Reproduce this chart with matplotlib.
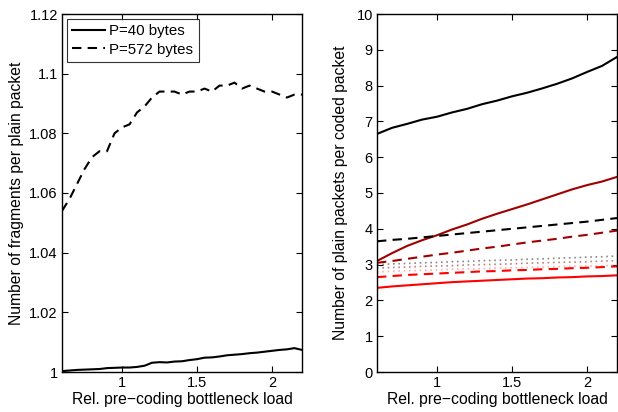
import numpy as np
import matplotlib
matplotlib.use("Agg")
import matplotlib.pyplot as plt

plt.rcParams['font.family'] = ['Liberation Sans', 'DejaVu Sans']

# Left panel data
x_left = [0.6, 0.65, 0.7, 0.75, 0.8, 0.85, 0.9, 0.95, 1.0, 1.05, 1.1, 1.15, 1.2, 1.25,
          1.3, 1.35, 1.4, 1.45, 1.5, 1.55, 1.6, 1.65, 1.7, 1.75, 1.8, 1.85, 1.9, 1.95,
          2.0, 2.05, 2.1, 2.15, 2.2]
frag_p40 = [1.0003, 1.0005, 1.0007, 1.0008, 1.0009, 1.0010, 1.0013, 1.0014, 1.0015, 1.0015,
            1.0017, 1.0021, 1.0031, 1.0033, 1.0032, 1.0035, 1.0036, 1.0040, 1.0043, 1.0048,
            1.0049, 1.0052, 1.0056, 1.0058, 1.0060, 1.0063, 1.0065, 1.0068, 1.0071, 1.0074,
            1.0076, 1.0080, 1.0074]
frag_p572 = [1.054, 1.058, 1.063, 1.068, 1.072, 1.074, 1.074, 1.080, 1.082, 1.083, 1.087,
             1.089, 1.092, 1.094, 1.094, 1.094, 1.093, 1.094, 1.094, 1.095, 1.094, 1.096,
             1.096, 1.097, 1.095, 1.096, 1.095, 1.094, 1.094, 1.093, 1.092, 1.093, 1.093]
legend_labels = ["P=40 bytes", "P=572 bytes"]

# Right panel data
x_right = [0.6, 0.7, 0.8, 0.9, 1.0, 1.1, 1.2, 1.3, 1.4, 1.5, 1.6, 1.7, 1.8, 1.9, 2.0, 2.1, 2.2]
black_solid = [6.65, 6.82, 6.93, 7.05, 7.13, 7.25, 7.35, 7.48, 7.58, 7.70, 7.80, 7.92, 8.05, 8.20, 8.38, 8.55, 8.80]
darkred_solid = [3.10, 3.32, 3.52, 3.68, 3.82, 3.98, 4.12, 4.28, 4.42, 4.55, 4.68, 4.82, 4.96, 5.10, 5.22, 5.32, 5.45]
black_dashed = [3.65, 3.69, 3.72, 3.76, 3.80, 3.84, 3.88, 3.92, 3.96, 4.00, 4.04, 4.08, 4.12, 4.16, 4.20, 4.25, 4.30]
darkred_dashed = [3.05, 3.10, 3.16, 3.22, 3.28, 3.33, 3.39, 3.45, 3.50, 3.56, 3.62, 3.67, 3.72, 3.78, 3.83, 3.89, 3.95]
black_dotted = [3.00, 3.02, 3.03, 3.05, 3.06, 3.08, 3.09, 3.11, 3.12, 3.13, 3.15, 3.16, 3.18, 3.19, 3.21, 3.22, 3.24]
darkred_dotted = [2.90, 2.92, 2.93, 2.95, 2.96, 2.97, 2.99, 3.00, 3.01, 3.02, 3.04, 3.05, 3.06, 3.07, 3.08, 3.10, 3.11]
red_dotted = [2.80, 2.81, 2.83, 2.84, 2.85, 2.87, 2.88, 2.89, 2.90, 2.91, 2.92, 2.93, 2.94, 2.95, 2.96, 2.97, 2.98]
red_dashed = [2.65, 2.68, 2.71, 2.73, 2.75, 2.77, 2.79, 2.81, 2.82, 2.84, 2.85, 2.87, 2.88, 2.90, 2.91, 2.93, 2.95]
red_solid = [2.35, 2.39, 2.42, 2.45, 2.48, 2.51, 2.53, 2.55, 2.57, 2.59, 2.61, 2.62, 2.64, 2.65, 2.67, 2.68, 2.70]

fig = plt.figure(figsize=(6.18, 4.12), dpi=100)
ax1 = fig.add_axes([62/618, 40/412, 240/618, 358/412])
ax2 = fig.add_axes([377/618, 40/412, 240/618, 358/412])

fs = 11.3
tfs = 10.5
dash = (0, (4.5, 3))
ax1.plot(x_left, frag_p40, color='black', lw=1.5, label=legend_labels[0])
ax1.plot(x_left, frag_p572, color='black', lw=1.5, ls=dash, label=legend_labels[1])
ax1.set_xlim(0.6, 2.2)
ax1.set_ylim(1.0, 1.12)
ax1.set_xticks([1, 1.5, 2])
ax1.set_xticklabels(['1', '1.5', '2'])
ax1.set_yticks([1.0, 1.02, 1.04, 1.06, 1.08, 1.1, 1.12])
ax1.set_yticklabels(['1', '1.02', '1.04', '1.06', '1.08', '1.1', '1.12'])
ax1.set_xlabel("Rel. pre\u2212coding bottleneck load", fontsize=fs, labelpad=1)
ax1.set_ylabel("Number of fragments per plain packet", fontsize=fs, labelpad=4)
leg = ax1.legend(loc='upper left', fontsize=10.8, frameon=True, fancybox=False,
                 edgecolor='black', borderaxespad=0.3, handlelength=2.2,
                 borderpad=0.38, labelspacing=0.3, handletextpad=0.25)
leg.get_frame().set_linewidth(0.8)

ax2.plot(x_right, black_solid, color='black', lw=1.5)
ax2.plot(x_right, darkred_solid, color='#a00000', lw=1.5)
ax2.plot(x_right, black_dashed, color='black', lw=1.5, ls=dash)
ax2.plot(x_right, darkred_dashed, color='#a00000', lw=1.5, ls=dash)
ax2.plot(x_right, black_dotted, color='#888888', lw=1.2, ls=(0, (1, 2.2)))
ax2.plot(x_right, darkred_dotted, color='#c08080', lw=1.2, ls=(0, (1, 2.2)))
ax2.plot(x_right, red_dotted, color='#ffb0b0', lw=1.2, ls=(0, (1, 2.2)))
ax2.plot(x_right, red_dashed, color='red', lw=1.5, ls=dash)
ax2.plot(x_right, red_solid, color='red', lw=1.5)
ax2.set_xlim(0.6, 2.2)
ax2.set_ylim(0, 10)
ax2.set_xticks([1, 1.5, 2])
ax2.set_xticklabels(['1', '1.5', '2'])
ax2.set_yticks(range(0, 11))
ax2.set_xlabel("Rel. pre\u2212coding bottleneck load", fontsize=fs, labelpad=1)
ax2.set_ylabel("Number of plain packets per coded packet", fontsize=fs, labelpad=6)

for ax in (ax1, ax2):
    ax.tick_params(direction='in', top=True, right=True, labelsize=tfs, length=4, width=0.8, pad=3)
    for s in ax.spines.values():
        s.set_linewidth(1.0)

fig.savefig("out.png", dpi=100)
